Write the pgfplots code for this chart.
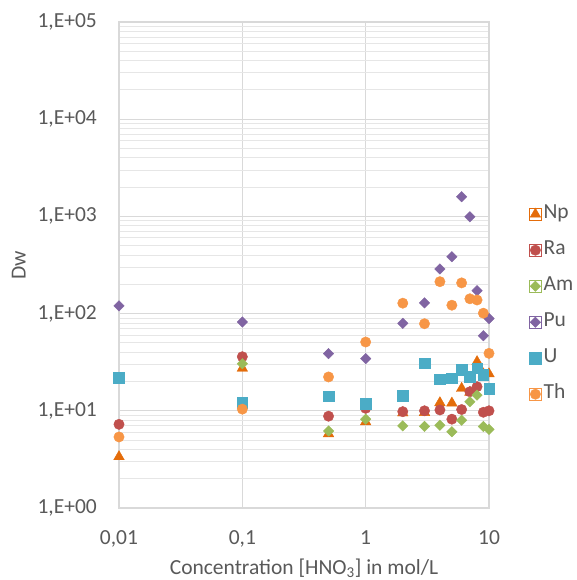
\documentclass[border=0pt]{standalone}
\usepackage{fontspec}
\setmainfont{Carlito}
\usepackage{pgfplots}
\pgfplotsset{compat=1.18}
\definecolor{txt}{HTML}{595959}
\definecolor{gridc}{HTML}{D9D9D9}
\definecolor{gridm}{HTML}{E6E6E6}
\definecolor{cNp}{HTML}{E46C0A}
\definecolor{cRa}{HTML}{C0504D}
\definecolor{cAm}{HTML}{9BBB59}
\definecolor{cPu}{HTML}{8064A2}
\definecolor{cU}{HTML}{4BACC6}
\definecolor{cTh}{HTML}{F79646}
\newcommand{\fs}{\fontsize{21.5}{26}\selectfont}
\begin{document}
\begin{tikzpicture}
\useasboundingbox (0,0) rectangle (576pt,580pt);
\begin{axis}[
  at={(119pt,72pt)}, anchor=south west,
  width=370pt, height=486pt, scale only axis,
  xmode=log, ymode=log,
  xmin=0.01, xmax=10, ymin=1, ymax=1e5,
  xtick={0.01,0.1,1,10}, xticklabels={{0,01},{0,1},{1},{10}},
  ytick={1,10,100,1000,10000,100000},
  yticklabels={{1,E+00},{1,E+01},{1,E+02},{1,E+03},{1,E+04},{1,E+05}},
  minor ytick={2,3,4,5,6,7,8,9,20,30,40,50,60,70,80,90,200,300,400,500,600,700,800,900,2000,3000,4000,5000,6000,7000,8000,9000,20000,30000,40000,50000,60000,70000,80000,90000},
  xmajorgrids, ymajorgrids, yminorgrids,
  major grid style={draw=gridc, line width=1.2pt},
  minor grid style={draw=gridm, line width=1pt},
  axis line style={draw=gridc, line width=1.4pt},
  tick style={draw=none},
  tick label style={font=\fs, text=txt},
  yticklabel style={anchor=east, inner sep=0pt, xshift=-22pt},
  xticklabel style={anchor=base, inner sep=0pt, yshift=-36pt},
  xlabel={Concentration [HNO\textsubscript{3}] in mol/L},
  xlabel style={at={(axis description cs:0.5,-0.1358)}, anchor=base, inner sep=0pt, font=\fs, text=txt},
  ylabel={Dw},
  ylabel style={at={(axis description cs:-0.2522,0.5)}, anchor=base, inner sep=0pt, font=\fs, text=txt},
  legend cell align=left,
  legend style={draw=none, fill=none, at={(axis description cs:1.1,0.6286)}, anchor=north west,
    row sep=17pt, column sep=2pt, font=\fs, text=txt,
    nodes={inner sep=0pt, text height=14pt, text depth=5pt}},
  legend image code/.code={\path (-6pt,-6pt) rectangle (6pt,6pt); \draw[#1] plot coordinates {(0pt,0pt)};},
  clip=false,
]
\addplot[only marks, color=cNp, mark=triangle*, mark size=6.1pt] coordinates {
 (0.01,3.37) (0.1,27.4) (0.5,5.8) (1,7.7) (2,9.5) (3,9.6) (4,12.1) (5,12.0) (6,17) (7,15.5) (8,32) (9,24) (10,24)};
\addlegendentry{Np}
\addplot[only marks, color=cRa, mark=*, mark size=5.2pt] coordinates {
 (0.01,7.26) (0.1,36) (0.5,8.8) (1,10.6) (2,9.8) (3,10.0) (4,10.2) (5,8.2) (6,10.3) (7,15.7) (8,17.7) (9,9.66) (10,10.0)};
\addlegendentry{Ra}
\addplot[only marks, color=cAm, mark=square*, mark size=3.7pt, mark options={rotate=45}] coordinates {
 (0.1,30.5) (0.5,6.2) (1,8.2) (2,7.0) (3,6.9) (4,7.1) (5,6.1) (6,8.0) (7,12.4) (8,14.5) (9,6.9) (10,6.45)};
\addlegendentry{Am}
\addplot[only marks, color=cPu, mark=square*, mark size=3.7pt, mark options={rotate=45}] coordinates {
 (0.01,120) (0.1,82) (0.5,38.7) (1,34.4) (2,79.5) (3,129) (4,288) (5,385) (6,1595) (7,990) (8,172) (9,59.2) (10,89)};
\addlegendentry{Pu}
\addplot[only marks, color=cU, mark=square*, mark size=5.3pt] coordinates {
 (0.01,21.9) (0.1,12.2) (0.5,14.1) (1,11.9) (2,14.3) (3,30.8) (4,21.1) (5,21.6) (6,26.3) (7,22.4) (8,27.4) (9,23.4) (10,16.8)};
\addlegendentry{U}
\addplot[only marks, color=cTh, mark=*, mark size=5.2pt] coordinates {
 (0.01,5.38) (0.1,10.4) (0.5,22.3) (1,51) (2,128) (3,78.7) (4,213) (5,122) (6,207) (7,142) (8,138) (9,101) (10,39)};
\addlegendentry{Th}
\end{axis}
\end{tikzpicture}
\end{document}
